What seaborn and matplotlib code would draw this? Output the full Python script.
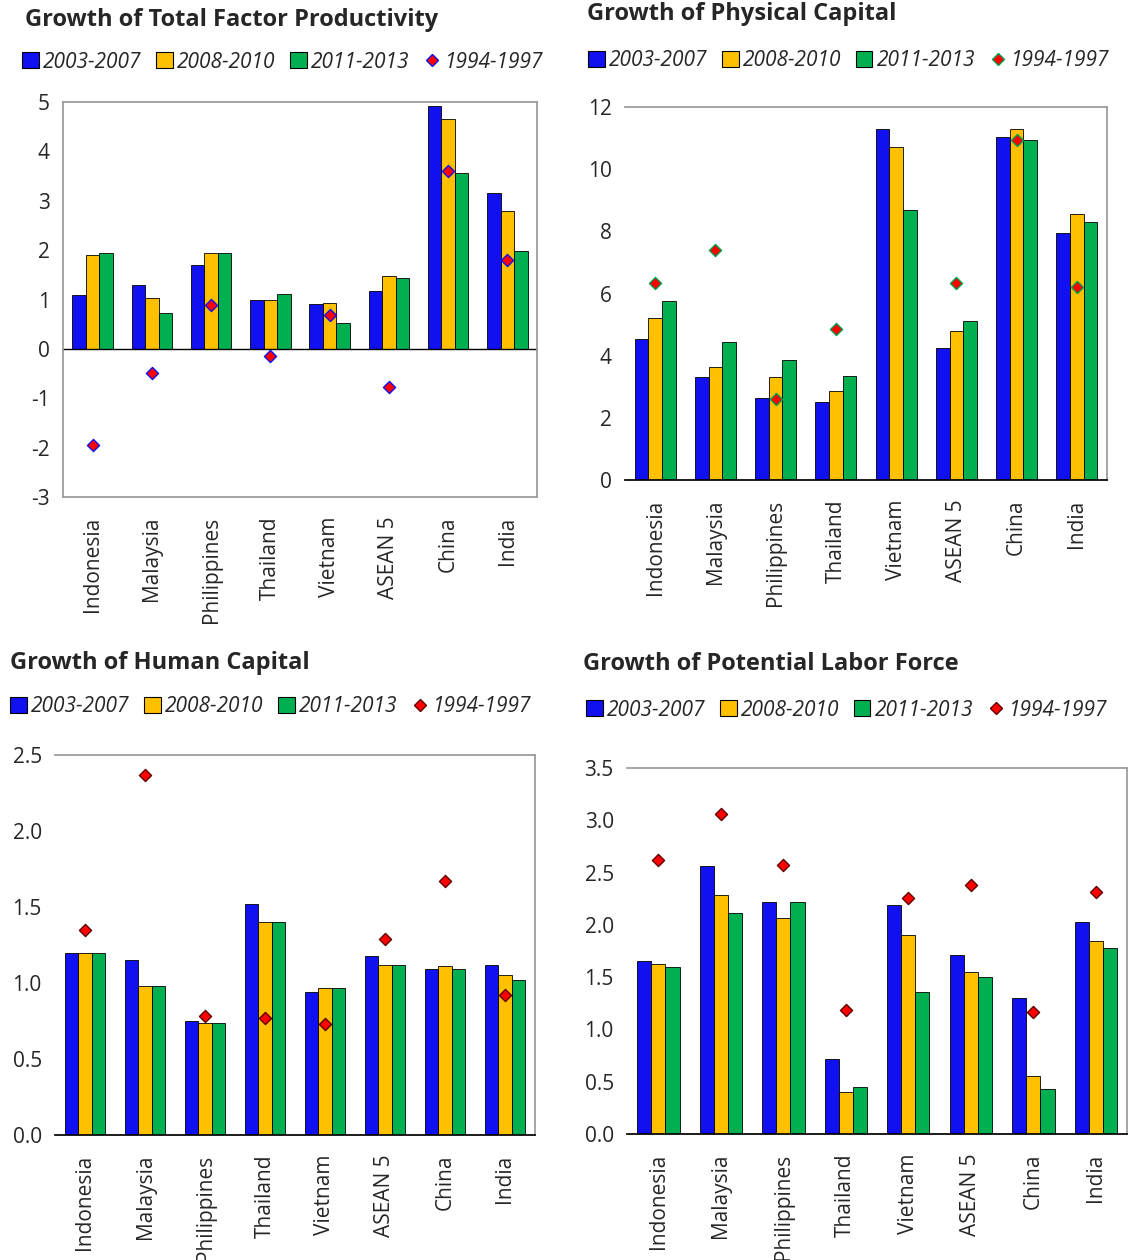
import numpy as np
import pandas as pd
import matplotlib
matplotlib.use("Agg")
import matplotlib.pyplot as plt
import seaborn as sns
from matplotlib.lines import Line2D
from matplotlib.patches import Patch

sns.set_theme(style="white")
plt.rcParams['font.family'] = ['Open Sans', 'DejaVu Sans']

countries = ['Indonesia', 'Malaysia', 'Philippines', 'Thailand', 'Vietnam', 'ASEAN 5', 'China', 'India']
periods = ['2003-2007', '2008-2010', '2011-2013']
colors = ['#1010F0', '#FFC000', '#00B050']

tfp_0307 = [1.10, 1.30, 1.70, 1.00, 0.90, 1.17, 4.92, 3.15]
tfp_0810 = [1.90, 1.03, 1.95, 1.00, 0.92, 1.47, 4.65, 2.80]
tfp_1113 = [1.95, 0.72, 1.95, 1.12, 0.52, 1.43, 3.57, 1.98]
tfp_9497 = [-1.95, -0.48, 0.88, -0.14, 0.68, -0.78, 3.60, 1.80]

cap_0307 = [4.55, 3.30, 2.65, 2.50, 11.30, 4.25, 11.05, 7.95]
cap_0810 = [5.20, 3.65, 3.30, 2.85, 10.70, 4.80, 11.30, 8.55]
cap_1113 = [5.75, 4.45, 3.85, 3.35, 8.70, 5.10, 10.95, 8.30]
cap_9497 = [6.35, 7.40, 2.60, 4.85, np.nan, 6.35, 10.95, 6.20]

hc_0307 = [1.20, 1.15, 0.75, 1.52, 0.94, 1.18, 1.09, 1.12]
hc_0810 = [1.20, 0.98, 0.74, 1.40, 0.97, 1.12, 1.11, 1.05]
hc_1113 = [1.20, 0.98, 0.74, 1.40, 0.97, 1.12, 1.09, 1.02]
hc_9497 = [1.35, 2.37, 0.78, 0.77, 0.73, 1.29, 1.67, 0.92]

lf_0307 = [1.65, 2.56, 2.22, 0.72, 2.19, 1.71, 1.30, 2.03]
lf_0810 = [1.63, 2.29, 2.07, 0.40, 1.90, 1.55, 0.55, 1.85]
lf_1113 = [1.60, 2.11, 2.22, 0.45, 1.36, 1.50, 0.43, 1.78]
lf_9497 = [2.62, 3.06, 2.57, 1.19, 2.26, 2.38, 1.17, 2.31]

W, H = 1135, 1260
fig = plt.figure(figsize=(W / 100, H / 100), dpi=100)


def px_axes(x0, y0, x1, y1):
    return fig.add_axes([x0 / W, 1 - y1 / H, (x1 - x0) / W, (y1 - y0) / H])


panels = [
    dict(box=(63, 102, 537, 497), data=(tfp_0307, tfp_0810, tfp_1113, tfp_9497),
         ylim=(-3, 5), ticks=np.arange(-3, 6, 1), fmt='{:.0f}', dedge='#1010F0',
         title='Growth of Total Factor Productivity', tpos=(25, 20), lpos=(22, 62)),
    dict(box=(625, 107, 1107, 480), data=(cap_0307, cap_0810, cap_1113, cap_9497),
         ylim=(0, 12), ticks=np.arange(0, 13, 2), fmt='{:.0f}', dedge='#00A050',
         title='Growth of Physical Capital', tpos=(587, 14), lpos=(588, 61)),
    dict(box=(55, 755, 535, 1135), data=(hc_0307, hc_0810, hc_1113, hc_9497),
         ylim=(0, 2.5), ticks=np.arange(0, 2.51, 0.5), fmt='{:.1f}', dedge='#600000',
         title='Growth of Human Capital', tpos=(10, 663), lpos=(10, 707)),
    dict(box=(627, 768, 1127, 1134), data=(lf_0307, lf_0810, lf_1113, lf_9497),
         ylim=(0, 3.5), ticks=np.arange(0, 3.51, 0.5), fmt='{:.1f}', dedge='#600000',
         title='Growth of Potential Labor Force', tpos=(583, 664), lpos=(586, 710)),
]

for p in panels:
    ax = px_axes(*p['box'])
    s1, s2, s3, dia = p['data']
    df = pd.DataFrame({'country': countries * 3,
                       'period': np.repeat(periods, len(countries)),
                       'value': s1 + s2 + s3})
    sns.barplot(data=df, x='country', y='value', hue='period', palette=colors,
                saturation=1, width=0.68, edgecolor='black', linewidth=0.6,
                ax=ax, legend=False)
    ax.scatter(np.arange(len(countries)), dia, marker='D', s=38, color='red',
               edgecolor=p['dedge'], linewidth=1, zorder=5)
    ax.set_ylim(*p['ylim'])
    ax.set_xlim(-0.5, len(countries) - 0.5)
    ax.set_yticks(p['ticks'])
    ax.set_yticklabels([p['fmt'].format(t) for t in p['ticks']], fontsize=15)
    ax.tick_params(axis='x', labelrotation=90, labelsize=15, length=0, pad=14)
    ax.set_xlabel('')
    ax.set_ylabel('')
    if p['ylim'][0] < 0:
        ax.axhline(0, color='black', lw=1)
    for sp in ax.spines.values():
        sp.set_color('#999999')
    if p['ylim'][0] == 0:
        ax.spines['left'].set_visible(False)
        ax.spines['bottom'].set_color('black')
    fig.text(p['tpos'][0] / W, 1 - p['tpos'][1] / H, p['title'], fontsize=17,
             fontweight='bold', va='center', ha='left')
    handles = [Patch(facecolor=c, edgecolor='black', linewidth=0.8) for c in colors]
    handles.append(Line2D([], [], marker='D', ls='', color='red',
                          markeredgecolor=p['dedge'], markersize=6))
    fig.legend(handles, periods + ['1994-1997'], loc='center left',
               bbox_to_anchor=(p['lpos'][0] / W, 1 - p['lpos'][1] / H),
               ncol=4, frameon=False, prop={'style': 'italic', 'size': 15},
               handlelength=0.8, handleheight=0.8, handletextpad=0.2,
               columnspacing=0.7, borderaxespad=0, borderpad=0)

fig.savefig('out.png', dpi=100)
